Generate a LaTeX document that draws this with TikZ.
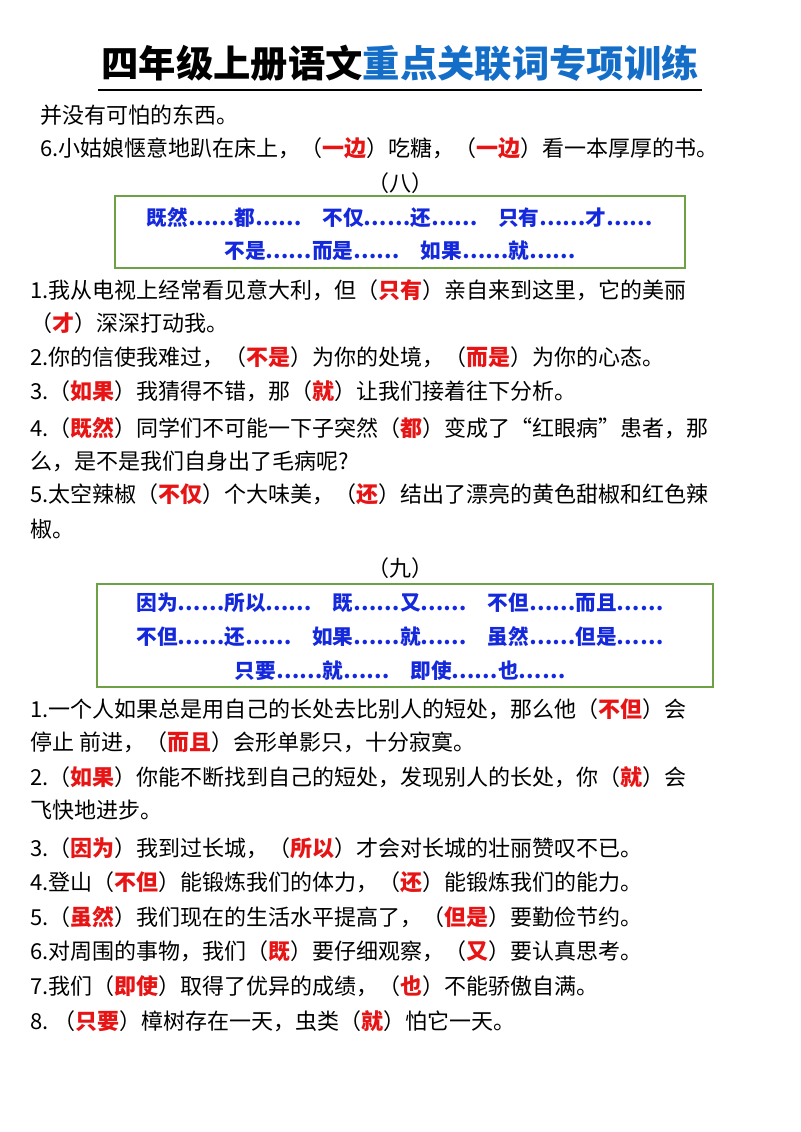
\documentclass[tikz,border=0pt]{standalone}
\usepackage{fontspec}
\setmainfont{Liberation Serif}
\newfontfamily\cjk{Noto Sans CJK SC}
\definecolor{kred}{RGB}{230,20,20}
\definecolor{kblue}{RGB}{20,40,220}
\definecolor{tblue}{RGB}{20,110,200}
\definecolor{bgreen}{RGB}{110,160,70}
\newcommand{\ans}[1]{{\color{kred}\bfseries #1}}
\begin{document}
\begin{tikzpicture}[x=0.75pt,y=-0.75pt,
  ln/.style={anchor=west,inner sep=0,font=\cjk\fontsize{16.5}{18}\selectfont},
  kw/.style={anchor=center,inner sep=0,text=kblue,font=\cjk\bfseries\fontsize{15.5}{18}\selectfont},
  box/.style={draw=bgreen,line width=1pt}]
\useasboundingbox (0,0) rectangle (800,1132);
\node[inner sep=0,font=\cjk\bfseries\fontsize{28}{32}\selectfont] (title) at (400,63) {四年级上册语文{\color{tblue}重点关联词专项训练}};
\draw[line width=1.2pt] (98,90) -- (702,90);
\node[ln] (l0) at (40,115) {并没有可怕的东西。};
\node[ln] (l1) at (40,148) {6.小姑娘惬意地趴在床上，（\ans{一边}）吃糖，（\ans{一边}）看一本厚厚的书。};
\node[inner sep=0,font=\cjk\fontsize{16.5}{18}\selectfont] (h8) at (400,183) {（八）};
\draw[box] (115,196) rectangle (685,268);
\node[kw] (k1) at (400,218) {既然……都……\quad 不仅……还……\quad 只有……才……};
\node[kw] (k2) at (400,251) {不是……而是……\quad 如果……就……};
\node[ln] (a1) at (30,290) {1.我从电视上经常看见意大利，但（\ans{只有}）亲自来到这里，它的美丽};
\node[ln] (a2) at (30,323) {（\ans{才}）深深打动我。};
\node[ln] (a3) at (30,357) {2.你的信使我难过，（\ans{不是}）为你的处境，（\ans{而是}）为你的心态。};
\node[ln] (a4) at (30,391) {3.（\ans{如果}）我猜得不错，那（\ans{就}）让我们接着往下分析。};
\node[ln] (a5) at (30,428) {4.（\ans{既然}）同学们不可能一下子突然（\ans{都}）变成了“红眼病”患者，那};
\node[ln] (a6) at (30,461) {么，是不是我们自身出了毛病呢?};
\node[ln] (a7) at (30,494) {5.太空辣椒（\ans{不仅}）个大味美，（\ans{还}）结出了漂亮的黄色甜椒和红色辣};
\node[ln] (a8) at (30,529) {椒。};
\node[inner sep=0,font=\cjk\fontsize{16.5}{18}\selectfont] (h9) at (400,568) {（九）};
\draw[box] (97,584) rectangle (713,687);
\node[kw] (m1) at (400,603) {因为……所以……\quad 既……又……\quad 不但……而且……};
\node[kw] (m2) at (400,637) {不但……还……\quad 如果……就……\quad 虽然……但是……};
\node[kw] (m3) at (400,671) {只要……就……\quad 即使……也……};
\node[ln] (b1) at (30,709) {1.一个人如果总是用自己的长处去比别人的短处，那么他（\ans{不但}）会};
\node[ln] (b2) at (30,742) {停止 前进，（\ans{而且}）会形单影只，十分寂寞。};
\node[ln] (b3) at (30,777) {2.（\ans{如果}）你能不断找到自己的短处，发现别人的长处，你（\ans{就}）会};
\node[ln] (b4) at (30,810) {飞快地进步。};
\node[ln] (b5) at (30,848) {3.（\ans{因为}）我到过长城，（\ans{所以}）才会对长城的壮丽赞叹不已。};
\node[ln] (b6) at (30,882) {4.登山（\ans{不但}）能锻炼我们的体力，（\ans{还}）能锻炼我们的能力。};
\node[ln] (b7) at (30,917) {5.（\ans{虽然}）我们现在的生活水平提高了，（\ans{但是}）要勤俭节约。};
\node[ln] (b8) at (30,951) {6.对周围的事物，我们（\ans{既}）要仔细观察，（\ans{又}）要认真思考。};
\node[ln] (b9) at (30,986) {7.我们（\ans{即使}）取得了优异的成绩，（\ans{也}）不能骄傲自满。};
\node[ln] (b10) at (30,1021) {8.\ （\ans{只要}）樟树存在一天，虫类（\ans{就}）怕它一天。};
\end{tikzpicture}
\end{document}
